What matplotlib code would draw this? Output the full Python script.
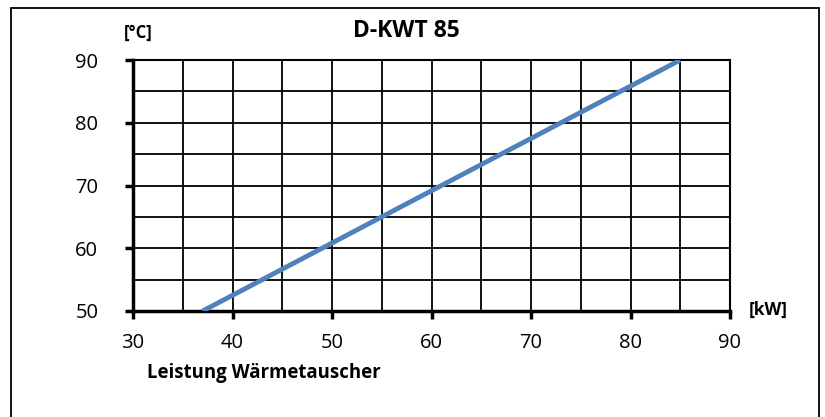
import matplotlib
matplotlib.use("Agg")
import matplotlib.pyplot as plt
from matplotlib.patches import Rectangle
from matplotlib.ticker import MultipleLocator

plt.rcParams['font.family'] = ['Open Sans', 'DejaVu Sans']

title = "D-KWT 85"
x_label = "Leistung Wärmetauscher"
x_unit = "[kW]"
y_unit = "[°C]"
leistung_kw = [37, 85]
temperatur_c = [50, 90]
x_ticks = [30, 40, 50, 60, 70, 80, 90]
y_ticks = [50, 60, 70, 80, 90]

W, H = 825, 417
fig = plt.figure(figsize=(W/100, H/100), dpi=100)
fig.patch.set_facecolor('white')

# outer frame
fig.add_artist(Rectangle((11/W, -0.05), (819-11)/W, 1.05 - 8/H, transform=fig.transFigure,
                         fill=False, edgecolor='black', linewidth=1.3))

ax = fig.add_axes([133/W, 1 - 311/H, (730-133)/W, (311-60)/H])
ax.set_xlim(30, 90)
ax.set_ylim(50, 90)
ax.xaxis.set_minor_locator(MultipleLocator(5))
ax.yaxis.set_minor_locator(MultipleLocator(5))
ax.set_xticks(x_ticks)
ax.set_yticks(y_ticks)
ax.grid(True, which='both', color='black', linewidth=1.3)
ax.tick_params(which='major', direction='out', length=6, width=2.5, labelsize=14.5)
ax.tick_params(axis='x', which='major', pad=10)
ax.tick_params(axis='y', which='major', pad=19)
ax.tick_params(which='minor', length=0)
for s in ['left', 'bottom']:
    ax.spines[s].set_linewidth(2.5)
for s in ['top', 'right']:
    ax.spines[s].set_linewidth(1.5)

ax.plot(leistung_kw, temperatur_c, color='#4F81BD', linewidth=3.5, solid_capstyle='butt', zorder=5)

fig.text(138/W, 1 - 33/H, y_unit, ha='center', va='center', fontsize=12, fontweight='bold')
fig.text(406/W, 1 - 31/H, title, ha='center', va='center', fontsize=16.5, fontweight='bold')
fig.text(768/W, 1 - 310/H, x_unit, ha='center', va='center', fontsize=12.5, fontweight='bold')
fig.text(264/W, 1 - 373/H, x_label, ha='center', va='center', fontsize=13.4, fontweight='bold')

fig.savefig('out.png', dpi=100)
